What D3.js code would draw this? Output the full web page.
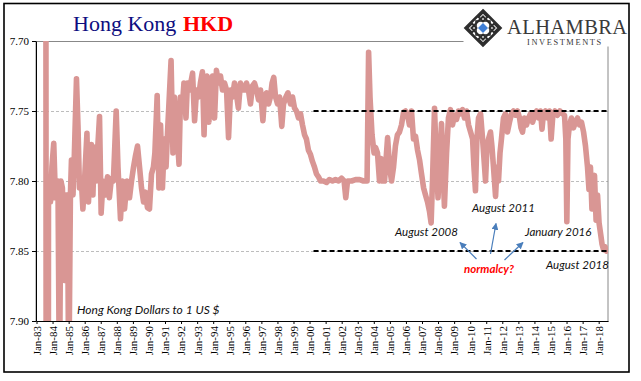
<!DOCTYPE html>
<html><head><meta charset="utf-8">
<script src="https://cdn.jsdelivr.net/npm/d3@7"></script>
<style>body{margin:0;background:#fff}svg{display:block}</style>
</head><body><svg id="c" width="641" height="381"></svg>
<script>
// ---- data ----
const dates = [
"1983-01-01","1983-06-01","1983-08-01","1983-09-01","1983-10-01","1983-11-15","1983-12-18",
"1984-01-28","1984-03-06","1984-04-10","1984-05-03","1984-06-06","1984-07-10","1984-08-12","1984-09-27","1984-11-01","1984-12-06",
"1985-01-04","1985-02-10","1985-03-06","1985-04-10","1985-05-12","1985-06-28","1985-08-01","1985-09-04","1985-10-18","1985-11-21","1985-12-28",
"1986-02-21","1986-03-28","1986-05-01","1986-06-04","1986-07-07","1986-08-10","1986-09-15","1986-10-18","1986-12-04",
"1987-01-10","1987-02-21","1987-04-18","1987-06-04","1987-07-16","1987-09-01","1987-10-16","1987-12-18",
"1988-01-28","1988-03-25","1988-05-10","1988-06-25","1988-08-19","1988-10-16","1988-12-01",
"1989-01-16","1989-03-01","1989-04-16","1989-06-01","1989-07-16","1989-09-01","1989-10-13","1989-11-28",
"1990-01-13","1990-02-28","1990-04-13","1990-05-16","1990-07-07","1990-08-16","1990-09-22","1990-11-04","1990-12-19",
"1991-01-25","1991-02-28","1991-05-19","1991-07-01","1991-08-04","1991-09-19","1991-11-16","1991-12-19",
"1992-02-04","1992-03-07","1992-04-22","1992-05-25","1992-07-10","1992-09-19","1992-11-04","1992-12-19",
"1993-02-01","1993-03-16","1993-05-01","1993-06-07","1993-07-10","1993-08-13","1993-09-25","1993-11-01","1993-12-16",
"1994-02-01","1994-03-16","1994-05-01","1994-06-16","1994-08-01","1994-09-16","1994-11-01","1994-12-16",
"1995-02-01","1995-03-16","1995-05-01","1995-06-13","1995-07-28","1995-09-13","1995-10-28","1995-12-13",
"1996-01-28","1996-03-13","1996-04-28","1996-06-13","1996-07-28","1996-09-13","1996-10-28","1996-12-13",
"1997-02-04","1997-03-13","1997-04-28","1997-06-13","1997-07-25","1997-09-01","1997-10-10","1997-11-19",
"1998-01-04","1998-02-19","1998-04-10","1998-05-19","1998-07-13","1998-08-28","1998-10-25","1998-12-10",
"1999-01-25","1999-03-10","1999-04-25","1999-06-10","1999-07-25","1999-09-10","1999-10-22","1999-12-07",
"2000-01-22","2000-03-07","2000-04-22","2000-06-07","2000-07-22","2000-09-07","2000-11-13",
"2001-01-22","2001-03-28","2001-06-06","2001-08-13","2001-10-22","2001-12-28",
"2002-02-25","2002-04-04","2002-05-13","2002-08-13","2002-11-13",
"2003-02-13","2003-05-13","2003-08-01","2003-09-05","2003-10-07","2003-11-22",
"2004-01-07","2004-02-10","2004-03-25","2004-05-10","2004-06-13","2004-07-16","2004-09-01","2004-11-10","2004-12-25",
"2005-02-08","2005-03-25","2005-05-07","2005-06-22","2005-08-07","2005-09-22","2005-11-07","2005-12-22",
"2006-02-07","2006-03-22","2006-05-07","2006-06-22","2006-08-07","2006-09-22","2006-11-07","2006-12-22",
"2007-02-07","2007-03-22","2007-05-07","2007-06-22","2007-07-28","2007-08-28","2007-10-13","2007-11-16",
"2008-01-01","2008-02-16","2008-03-20","2008-04-22","2008-05-25","2008-07-13","2008-08-25","2008-10-10","2008-11-25",
"2009-01-10","2009-02-25","2009-04-10","2009-05-25","2009-07-10","2009-08-25","2009-10-10","2009-11-25",
"2010-01-10","2010-02-25","2010-03-28","2010-05-01","2010-06-03","2010-07-10","2010-08-25","2010-10-10","2010-11-13","2010-12-16",
"2011-01-19","2011-02-22","2011-04-08","2011-05-10","2011-06-15","2011-08-01","2011-09-03","2011-10-07","2011-11-10","2011-12-13",
"2012-01-28","2012-03-13","2012-04-28","2012-06-13","2012-07-28","2012-09-13","2012-10-28","2012-12-13",
"2013-01-28","2013-03-01","2013-04-05","2013-05-20","2013-07-05","2013-08-20","2013-10-05","2013-11-20",
"2014-01-05","2014-02-20","2014-04-05","2014-05-20","2014-06-22","2014-07-25","2014-09-10","2014-10-25","2014-12-10",
"2015-01-16","2015-02-26","2015-04-12","2015-06-06","2015-08-03","2015-10-01","2015-11-16","2015-12-16",
"2016-01-08","2016-02-03","2016-03-08","2016-04-22","2016-06-07","2016-07-22","2016-09-07","2016-10-22","2016-12-07",
"2017-01-22","2017-03-07","2017-04-22","2017-05-25","2017-06-28","2017-08-01","2017-09-05","2017-09-28","2017-11-03","2017-12-06",
"2018-01-10","2018-02-15","2018-03-18","2018-04-20","2018-05-25","2018-06-28","2018-07-22"
];
const values = [
6.70,7.20,7.55,9.20,7.80,7.815,7.79,
7.773,7.812,7.80,7.80,7.95,7.80,7.805,7.871,7.81,7.81,
7.95,7.81,7.785,7.81,7.78,7.727,7.76,7.805,7.80,7.82,7.80,
7.766,7.815,7.79,7.774,7.81,7.776,7.80,7.78,7.754,
7.823,7.80,7.81,7.797,7.812,7.798,7.80,7.75,
7.79,7.827,7.80,7.82,7.80,7.812,7.80,
7.79,7.782,7.775,7.79,7.805,7.815,7.808,7.819,
7.82,7.795,7.79,7.78,7.739,7.805,7.76,7.805,7.77,
7.79,7.765,7.714,7.78,7.74,7.76,7.788,7.74,
7.745,7.73,7.755,7.73,7.735,7.723,7.757,7.735,
7.74,7.73,7.722,7.767,7.73,7.725,7.758,7.73,7.725,
7.755,7.721,7.73,7.725,7.735,7.73,7.735,7.769,
7.735,7.74,7.73,7.738,7.748,7.73,7.735,7.735,
7.73,7.735,7.745,7.732,7.73,7.735,7.742,7.735,
7.757,7.74,7.737,7.745,7.74,7.73,7.726,7.74,
7.745,7.74,7.761,7.745,7.74,7.737,7.745,7.74,
7.748,7.75,7.755,7.752,7.76,7.767,7.77,7.778,
7.781,7.786,7.79,7.795,7.797,7.80,7.80,
7.801,7.799,7.80,7.799,7.80,7.798,
7.80,7.812,7.80,7.80,7.799,
7.799,7.80,7.80,7.708,7.74,7.767,
7.78,7.776,7.78,7.80,7.784,7.80,7.80,7.769,7.79,
7.80,7.79,7.775,7.767,7.765,7.76,7.751,7.75,
7.753,7.76,7.75,7.77,7.768,7.778,7.785,7.795,
7.805,7.81,7.815,7.822,7.83,7.80,7.748,7.78,
7.812,7.78,7.759,7.79,7.818,7.78,7.755,7.749,7.76,
7.753,7.756,7.75,7.752,7.749,7.755,7.75,7.76,
7.765,7.77,7.79,7.807,7.77,7.755,7.752,7.77,7.785,7.80,
7.775,7.77,7.765,7.775,7.79,7.811,7.79,7.80,7.78,7.77,
7.755,7.752,7.765,7.758,7.752,7.75,7.753,7.75,
7.755,7.762,7.765,7.755,7.76,7.755,7.752,7.758,
7.753,7.75,7.755,7.75,7.763,7.752,7.75,7.755,7.75,
7.77,7.752,7.75,7.753,7.75,7.752,7.753,7.77,
7.829,7.77,7.76,7.755,7.762,7.758,7.755,7.76,7.758,
7.765,7.775,7.79,7.806,7.79,7.82,7.80,7.796,7.828,7.81,
7.83,7.838,7.845,7.849,7.847,7.85,7.849
];
const yTicks = [7.70, 7.75, 7.80, 7.85, 7.90];
const gridValues = [7.75, 7.80, 7.85];
const tickYears = ["1983","1984","1985","1986","1987","1988","1989","1990","1991","1992","1993","1994",
"1995","1996","1997","1998","1999","2000","2001","2002","2003","2004","2005","2006","2007","2008",
"2009","2010","2011","2012","2013","2014","2015","2016","2017","2018"];
const bandValues = [7.75, 7.85];
const bandStart = "2000-04-01";
const domainStart = "1983-01-01", domainEnd = "2018-08-01";

// ---- layout ----
const L = 36, R = 608, T = 41, B = 321;
const parse = d3.timeParse("%Y-%m-%d");
const svg = d3.select("#c");
const x = d3.scaleTime().domain([parse(domainStart), parse(domainEnd)]).range([L + 0.5, R]);
const y = d3.scaleLinear().domain([7.70, 7.90]).range([T, B]);
const data = dates.map((d, i) => ({ date: parse(d), v: values[i] }));

const serif = "'Liberation Serif','Times New Roman',serif";
const sans = "Lato,'Open Sans',sans-serif";

// gridlines
svg.append("g").selectAll("line").data(gridValues).join("line")
  .attr("x1", L).attr("x2", R).attr("y1", d => y(d) + 0.5).attr("y2", d => y(d) + 0.5)
  .attr("stroke", "#bdbdbd").attr("stroke-width", 1).attr("stroke-dasharray", "3,2");

// plot border (grey)
svg.append("rect").attr("x", L).attr("y", T + 0.5).attr("width", R - L).attr("height", B - T)
  .attr("fill", "none").attr("stroke", "#888").attr("stroke-width", 1);

// clip
svg.append("clipPath").attr("id", "clip").append("rect")
  .attr("x", L).attr("y", T).attr("width", R - L).attr("height", B - T);

// series line
svg.append("path").datum(data)
  .attr("clip-path", "url(#clip)")
  .attr("fill", "none").attr("stroke", "#d99694").attr("stroke-width", 5.6)
  .attr("stroke-linejoin", "round").attr("stroke-linecap", "round")
  .attr("d", d3.line().x(d => x(d.date)).y(d => y(d.v)));

// peg band dashed lines
svg.append("g").selectAll("line").data(bandValues).join("line")
  .attr("x1", x(parse(bandStart))).attr("x2", R)
  .attr("y1", d => y(d)).attr("y2", d => y(d))
  .attr("stroke", "#000").attr("stroke-width", 2).attr("stroke-dasharray", "5,3");

// y axis
const ya = svg.append("g").attr("transform", `translate(${L},0)`)
  .call(d3.axisLeft(y).tickValues(yTicks).tickFormat(d3.format(".2f")).tickSize(4).tickSizeOuter(0).tickPadding(3));
ya.selectAll("text").attr("font-family", serif).attr("font-size", 11).attr("fill", "#000");
ya.select(".domain").attr("stroke", "#000");
ya.selectAll(".tick line").attr("stroke", "#000");

// x axis
const xa = svg.append("g").attr("transform", `translate(0,${B})`)
  .call(d3.axisBottom(x).tickValues(tickYears.map(yr => parse(yr + "-01-01")))
    .tickFormat(d3.timeFormat("Jan-%y")).tickSize(3).tickSizeOuter(0));
xa.select(".domain").attr("stroke", "#000");
xa.selectAll(".tick line").attr("stroke", "#000");
xa.selectAll("text").attr("font-family", serif).attr("font-size", 11).attr("fill", "#000")
  .attr("transform", "rotate(-90)").attr("text-anchor", "end")
  .attr("x", -5).attr("y", 0).attr("dy", "0.35em");

// title
svg.append("text").attr("x", 73).attr("y", 31).attr("font-family", serif).attr("font-size", 22)
  .attr("fill", "#0d0d80").text("Hong Kong");
svg.append("text").attr("x", 183).attr("y", 31).attr("font-family", serif).attr("font-size", 22)
  .attr("font-weight", "bold").attr("fill", "#ff0000").text("HKD");

// series caption
svg.append("text").attr("x", 77).attr("y", 314).attr("font-family", sans).attr("font-style", "italic")
  .attr("font-size", 12).attr("fill", "#111").text("Hong Kong Dollars to 1 US $");

// annotations
const ann = [
  { t: "August 2008", x: 395, y: 235.5 },
  { t: "August 2011", x: 472, y: 212 },
  { t: "January 2016", x: 525, y: 235.5 },
  { t: "August 2018", x: 546, y: 269 }
];
svg.append("g").selectAll("text").data(ann).join("text")
  .attr("x", d => d.x).attr("y", d => d.y).attr("font-family", sans).attr("font-style", "italic")
  .attr("font-size", 11.5).attr("fill", "#111").text(d => d.t);
svg.append("text").attr("x", 464).attr("y", 272.5).attr("font-family", sans).attr("font-style", "italic")
  .attr("font-weight", "bold").attr("font-size", 11.5).attr("fill", "#ff0000").text("normalcy?");

// arrows
const defs = svg.append("defs");
defs.append("marker").attr("id", "ah").attr("viewBox", "0 0 10 10").attr("refX", 9).attr("refY", 5)
  .attr("markerWidth", 7).attr("markerHeight", 7).attr("orient", "auto-start-reverse")
  .attr("markerUnits", "userSpaceOnUse")
  .append("path").attr("d", "M0,0 L10,5 L0,10 z").attr("fill", "#4a7ebb");
const arrows = [
  [476.5, 259, 460, 242.5],
  [490.5, 254, 496, 223.5],
  [504.5, 260, 523, 242.5]
];
svg.append("g").selectAll("line").data(arrows).join("line")
  .attr("x1", d => d[0]).attr("y1", d => d[1]).attr("x2", d => d[2]).attr("y2", d => d[3])
  .attr("stroke", "#4a7ebb").attr("stroke-width", 1.2).attr("marker-end", "url(#ah)");

// logo
svg.append("rect").attr("x", 463.5).attr("y", 0).attr("width", 170).attr("height", 46.5).attr("fill", "#fff");
const lg = svg.append("g").attr("transform", "translate(483,28)");
const dia = r => `M0,${-r} L${r},0 L0,${r} L${-r},0 Z`;
lg.append("path").attr("d", dia(17.5)).attr("fill", "none").attr("stroke", "#2e2e2e").attr("stroke-width", 2.6);
lg.append("path").attr("d", dia(11.5)).attr("fill", "none").attr("stroke", "#2e2e2e").attr("stroke-width", 2);
[[0,-11],[11,0],[0,11],[-11,0]].forEach(([cx, cy]) => {
  lg.append("path").attr("transform", `translate(${cx},${cy})`).attr("d", dia(4.5))
    .attr("fill", "none").attr("stroke", "#2e2e2e").attr("stroke-width", 1.8);
});
lg.append("rect").attr("x", -7).attr("y", -7).attr("width", 14).attr("height", 14)
  .attr("fill", "none").attr("stroke", "#2e2e2e").attr("stroke-width", 1.6);
lg.append("path").attr("d", dia(5)).attr("fill", "#3f7fd6");
svg.append("text").attr("x", 507).attr("y", 33.5).attr("font-family", serif).attr("font-size", 20.5)
  .attr("fill", "#3a3a3a").attr("letter-spacing", 0.4).text("ALHAMBRA");
svg.append("text").attr("x", 527).attr("y", 45).attr("font-family", serif).attr("font-size", 8.4)
  .attr("fill", "#3a3a3a").attr("letter-spacing", 1.6).text("INVESTMENTS");

// outer frame
svg.append("rect").attr("x", 4).attr("y", 3.5).attr("width", 625).attr("height", 368.5)
  .attr("fill", "none").attr("stroke", "#000").attr("stroke-width", 1.6);
</script></body></html>
